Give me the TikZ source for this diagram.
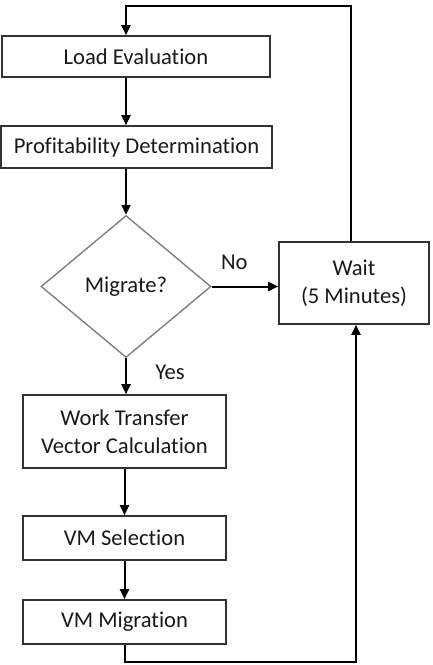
\documentclass[tikz,border=0pt]{standalone}
\usepackage{fontspec}
\setmainfont{Carlito}[Ligatures={NoCommon}]
\usetikzlibrary{arrows.meta,shapes.geometric}

\begin{document}
\begin{tikzpicture}[x=0.5pt, y=-0.5pt,
    font=\fontsize{11.3}{13.8}\selectfont,
    box/.style={draw=black!80, line width=0.8pt, inner sep=0pt, align=center, text=black!90},
    arr/.style={line width=1pt, -{Triangle[length=5pt,width=4.5pt]}}]
  \useasboundingbox (0,0) rectangle (433,665);
  % main column
  \node[box, minimum width=134pt, minimum height=20.5pt] (load) at (136,56.5) {Load Evaluation};
  \node[box, minimum width=135.5pt, minimum height=21pt] (profit) at (136.5,147) {Profitability Determination};
  \node[draw=black!50, line width=0.7pt, diamond, aspect=1.2, minimum width=85pt, minimum height=71pt,
        inner sep=0pt, text=black!90] (mig) at (126,286.5) {Migrate?};
  \node[box, minimum width=101.5pt, minimum height=36.5pt] (work) at (124.5,431.5) {Work Transfer\\Vector Calculation};
  \node[box, minimum width=101.5pt, minimum height=22pt] (sel) at (124.5,538) {VM Selection};
  \node[box, minimum width=101.5pt, minimum height=22pt] (migr) at (124.5,622) {VM Migration};
  % wait loop
  \node[box, minimum width=75pt, minimum height=41pt] (wait) at (354,283) {Wait\\(5 Minutes)};
  \coordinate (top) at (126,6);
  \coordinate (bot) at (126,662);
  % connectors
  \draw[arr] ([xshift=-1.5pt]wait.north) |- (top) -- (top |- load.north);
  \draw[arr] (top |- load.south) -- (top |- profit.north);
  \draw[arr] (top |- profit.south) -- (mig.north);
  \draw[arr] (mig.east) -- (mig.east -| wait.west) node[pos=0.34, yshift=12pt, text=black!90] (no) {No};
  \draw[arr] (mig.south) -- (mig.south |- work.north) node[pos=0.4, xshift=22pt, text=black!90] (yes) {Yes};
  \draw[arr] (work.south) -- (sel.north);
  \draw[arr] (sel.south) -- (migr.north);
  \draw[arr] (migr.south) |- (bot) -| ([xshift=1pt]wait.south);
\end{tikzpicture}
\end{document}
